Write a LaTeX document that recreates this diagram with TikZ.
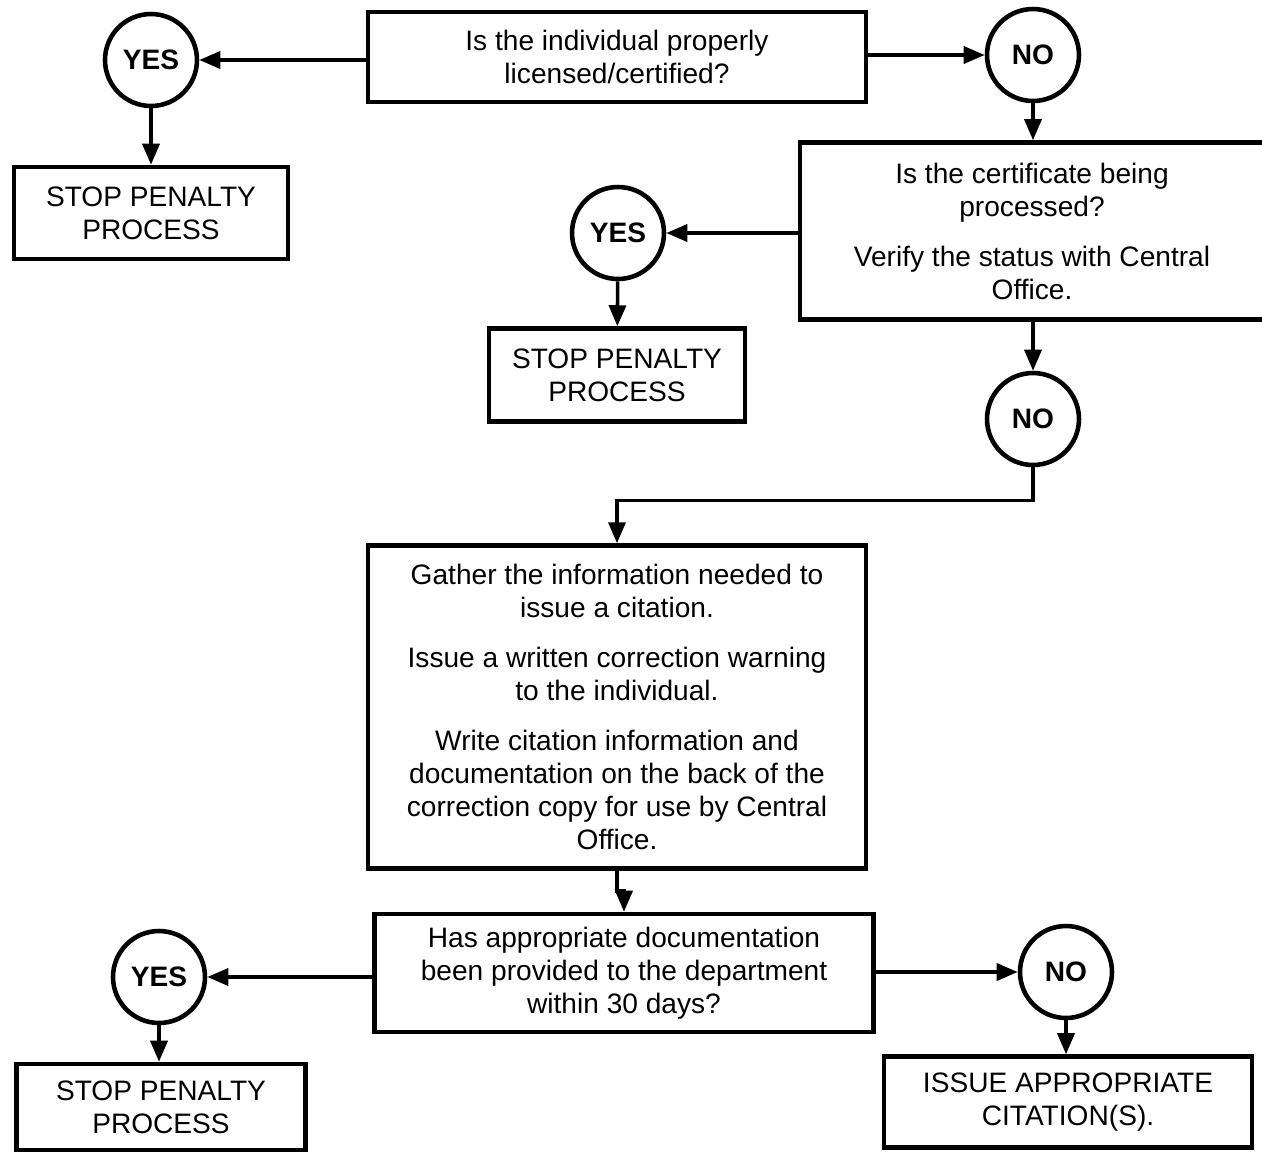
\documentclass[tikz,border=0pt]{standalone}
\usepackage{fontspec}
\setmainfont{Liberation Sans}
\usetikzlibrary{arrows.meta}
\tikzset{
  box/.style={draw, line width=2.6pt, align=center, inner sep=0pt,
    font=\fontsize{16}{18.8}\selectfont},
  answer/.style={draw, circle, line width=2.6pt, minimum size=1.84cm, inner sep=0pt,
    font=\fontsize{16}{18.8}\selectfont\bfseries},
  flow/.style={line width=2pt, -{Triangle[length=0.42cm,width=0.34cm]}}
}
\begin{document}
\begin{tikzpicture}[x=0.02cm, y=-0.02cm]
      \useasboundingbox (0,0) rectangle (1262,1154);
      \draw
        (617,57) node[box, minimum width=9.96cm, minimum height=1.80cm] (q1)
          {Is the individual properly\\licensed/certified?}
        (151,60) node[answer] (yes1) {YES}
        (1033,55) node[answer] (no1) {NO}
        (151,213) node[box, minimum width=5.48cm, minimum height=1.84cm] (stop1)
          {STOP PENALTY\\PROCESS}
        (1032,231) node[box, minimum width=9.28cm, minimum height=3.54cm] (q2)
          {Is the certificate being\\processed?\\[9.6pt]Verify the status with Central\\Office.}
        (618,233) node[answer] (yes2) {YES}
        (617,375) node[box, minimum width=5.12cm, minimum height=1.86cm] (stop2)
          {STOP PENALTY\\PROCESS}
        (1033,419) node[answer] (no2) {NO}
        (617,707) node[box, minimum width=9.96cm, minimum height=6.46cm] (gather)
          {Gather the information needed to\\issue a citation.\\[9.6pt]Issue a written correction warning\\to the individual.\\[9.6pt]Write citation information and\\documentation on the back of the\\correction copy for use by Central\\Office.}
        (624,973) node[box, minimum width=9.98cm, minimum height=2.36cm] (q3)
          {Has appropriate documentation\\been provided to the department\\within 30 days?}
        (159,977) node[answer] (yes3) {YES}
        (1066,972) node[answer] (no3) {NO}
        (161,1107) node[box, minimum width=5.78cm, minimum height=1.72cm] (stop3)
          {STOP PENALTY\\PROCESS}
        (1068,1102) node[box, minimum width=7.36cm, minimum height=1.82cm] (issue)
          {ISSUE APPROPRIATE\\CITATION(S).};
      \begin{scope}[flow]
        \draw (q1.west |- yes1) to (yes1);
        \draw (q1.east |- no1) to (no1);
        \draw (yes1) to (stop1);
        \draw (no1) to (no1 |- q2.north);
        \draw (q2.west |- yes2) to (yes2);
        \draw (yes2) to (stop2);
        \draw (no1 |- q2.south) to (no2);
        \draw (no2.south) -- ++(0,33) -| (gather.north);
        \draw (gather.south) -- ++(0,20) -| (q3.north);
        \draw (q3.west |- yes3) to (yes3);
        \draw (q3.east |- no3) to (no3);
        \draw (yes3) to (yes3 |- stop3.north);
        \draw (no3) to (no3 |- issue.north);
      \end{scope}
    \end{tikzpicture}
\end{document}
